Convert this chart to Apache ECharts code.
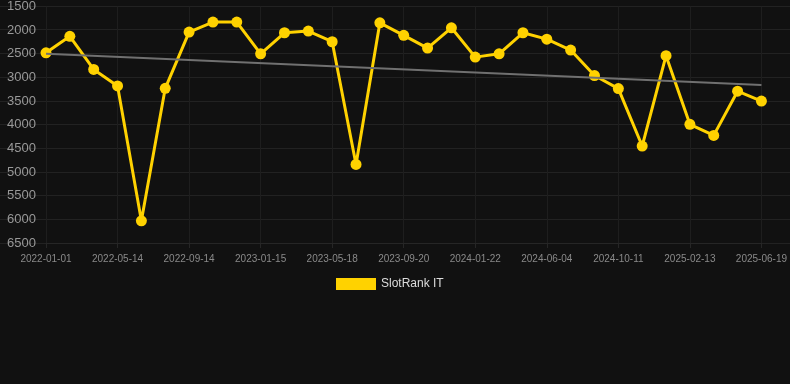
<!DOCTYPE html>
<html>
<head>
<meta charset="utf-8">
<script src="https://cdn.jsdelivr.net/npm/echarts@6/dist/echarts.min.js"></script>
<style>
    html, body { margin: 0; padding: 0; background: #111111; }
    #rankChart { width: 790px; height: 384px; }
</style>
</head>
<body>
<div id="rankChart"></div>
<script>
// dates on the x axis (every 3rd one is labelled)
var dates = ['2022-01-01', '2022-02-14', '2022-03-30', '2022-05-14', '2022-06-28', '2022-08-01',
    '2022-09-14', '2022-10-28', '2022-12-01', '2023-01-15', '2023-02-28', '2023-04-04',
    '2023-05-18', '2023-07-01', '2023-08-06', '2023-09-20', '2023-11-03', '2023-12-08',
    '2024-01-22', '2024-03-06', '2024-04-20', '2024-06-04', '2024-07-18', '2024-08-27',
    '2024-10-11', '2024-11-24', '2025-01-01', '2025-02-13', '2025-03-28', '2025-05-08',
    '2025-06-19'];

// rank values
var rankIT = [2480, 2130, 2830, 3180, 6030, 3230, 2040, 1830, 1830, 2500, 2055,
    2020, 2245, 4840, 1845, 2110, 2380, 1950, 2570, 2500, 2055, 2190, 2420,
    2960, 3235, 4450, 2540, 3990, 4225, 3290, 3500];

// trend line, first and last value
var trendEnds = [2500, 3160];

var yTicks = { min: 1500, max: 6500, step: 500 };

var chart = echarts.init(document.getElementById('rankChart'));

var option = {
    backgroundColor: '#111111',
    textStyle: { fontFamily: 'Liberation Sans, Arial, sans-serif' },
    legend: {
        top: 278,
        left: 336,
        padding: 0,
        itemWidth: 40,
        itemHeight: 12,
        itemGap: 10,
        icon: 'rect',
        textStyle: { color: '#dddddd', fontSize: 12 },
        data: ['SlotRank IT']
    },
    grid: [
        // full width grid, only for the horizontal lines
        { left: 0, right: 0, top: 6, height: 237 },
        { left: 46, right: 28, top: 6, height: 237 }
    ],
    xAxis: [
        { gridIndex: 0, type: 'value', show: false, min: 0, max: 1 },
        {
            gridIndex: 1,
            type: 'category',
            data: dates,
            boundaryGap: false,
            axisLine: { lineStyle: { color: '#262626' } },
            axisTick: { interval: 2, lineStyle: { color: '#262626' } },
            axisLabel: { interval: 2, color: '#8a8a8a', fontSize: 10, margin: 11 },
            splitLine: { show: true, interval: 2, lineStyle: { color: '#1e1e1e' } }
        }
    ],
    yAxis: [
        {
            gridIndex: 0, type: 'value', inverse: true,
            min: yTicks.min, max: yTicks.max, interval: yTicks.step,
            axisLabel: { show: false },
            axisLine: { show: false }, axisTick: { show: false },
            splitLine: { lineStyle: { color: '#222222' } }
        },
        {
            gridIndex: 1, type: 'value', inverse: true,
            min: yTicks.min, max: yTicks.max, interval: yTicks.step,
            axisLabel: {
                color: '#999999', fontSize: 13, margin: 10,
                formatter: function (v) { return String(v); }
            },
            axisLine: { show: false }, axisTick: { show: false },
            splitLine: { show: false }
        }
    ],
    series: [
        {
            name: 'SlotRank IT',
            type: 'line',
            xAxisIndex: 1,
            yAxisIndex: 1,
            data: rankIT,
            symbol: 'circle',
            symbolSize: 11,
            itemStyle: { color: '#ffd200' },
            lineStyle: { color: '#ffd200', width: 3 },
            z: 3,
            markLine: {
                silent: true,
                symbol: 'none',
                label: { show: false },
                lineStyle: { color: '#707070', width: 2, type: 'solid' },
                data: [[
                    { coord: [0, trendEnds[0]] },
                    { coord: [dates.length - 1, trendEnds[1]] }
                ]]
            }
        }
    ]
};

chart.setOption(option);
</script>
</body>
</html>
